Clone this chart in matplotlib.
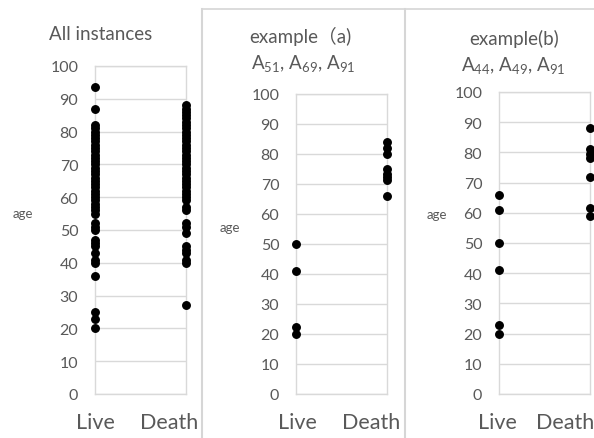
import matplotlib
matplotlib.use('Agg')
import matplotlib.pyplot as plt
from matplotlib.lines import Line2D

plt.rcParams['font.family'] = ['Lato', 'Noto Sans CJK JP', 'DejaVu Sans']
plt.rcParams['mathtext.fontset'] = 'custom'
plt.rcParams['mathtext.rm'] = 'Lato'
plt.rcParams['mathtext.it'] = 'Lato:italic'
plt.rcParams['mathtext.bf'] = 'Lato:bold'

categories = ['Live', 'Death']
yticks = list(range(0, 101, 10))

all_live = [93.5, 87, 82, 81, 80, 79, 78, 77, 76, 75, 74, 73, 72, 71, 70, 69, 68, 67,
            66, 65, 64, 63, 62, 61, 60, 59, 58, 57, 56, 55, 52, 51, 50, 47, 46, 45,
            43, 41, 40, 36, 25, 23, 20]
all_death = [88, 87, 86, 85, 84, 83, 82, 81, 80, 79, 78, 77, 76, 75, 74, 73, 72, 71,
             70, 69, 68, 67, 66, 65, 64, 63, 62, 61, 60, 59, 57, 56, 52, 51, 49, 45,
             44, 43, 41, 40, 27]
a_live = [50, 41, 22.5, 20]
a_death = [84, 82, 80, 75, 73.5, 72.5, 71.5, 66]
b_live = [66, 61, 50, 41, 23, 20]
b_death = [88, 81, 79.5, 78, 72, 61.5, 59]

title_1 = 'All instances'
title_a = ['example（a)', 'A$_{51}$, A$_{69}$, A$_{91}$']
title_b = ['example(b)', 'A$_{44}$, A$_{49}$, A$_{91}$']
ylabel = 'age'

W, H = 594, 439
fig = plt.figure(figsize=(W / 100, H / 100), dpi=100)
TXT = '#595959'
GRID = '#d9d9d9'


def box(l, r, t, b):
    return [l / W, 1 - b / H, (r - l) / W, (b - t) / H]


def fx(x):
    return x / W


def fy(y):
    return 1 - y / H


panels = [
    dict(rect=box(95, 186, 67, 395), live=all_live, death=all_death,
         live_x=95, death_x=169, age=(23, 214)),
    dict(rect=box(296, 387, 95, 395), live=a_live, death=a_death,
         live_x=297, death_x=371, age=(230, 228)),
    dict(rect=box(499, 590, 93, 395), live=b_live, death=b_death,
         live_x=497, death_x=565, age=(437, 215)),
]

for p in panels:
    ax = fig.add_axes(p['rect'])
    ax.set_xlim(1, 2)
    ax.set_ylim(0, 100)
    ax.set_yticks(yticks)
    ax.set_xticks([])
    ax.grid(axis='y', color=GRID, lw=1)
    ax.set_axisbelow(True)
    for s in ax.spines.values():
        s.set_color(GRID)
        s.set_linewidth(1)
    ax.tick_params(axis='y', length=0, pad=12, labelsize=11.5, labelcolor=TXT)
    ax.plot([1] * len(p['live']), p['live'], 'o', color='black', ms=5.4,
            clip_on=False, zorder=5)
    ax.plot([2] * len(p['death']), p['death'], 'o', color='black', ms=5.4,
            clip_on=False, zorder=5)
    fig.text(fx(p['live_x']), fy(423), categories[0], ha='center', va='center',
             fontsize=15.5, color=TXT)
    fig.text(fx(p['death_x']), fy(423), categories[1], ha='center', va='center',
             fontsize=15.5, color=TXT)
    fig.text(fx(p['age'][0]), fy(p['age'][1]), ylabel, ha='center', va='center',
             fontsize=9.5, color=TXT)

TS = 13.5
fig.text(fx(101), fy(34), title_1, ha='center', va='center', fontsize=TS, color=TXT)
fig.text(fx(300), fy(36), title_a[0], ha='center', va='center', fontsize=TS, color=TXT)
fig.text(fx(303), fy(63), title_a[1], ha='center', va='center', fontsize=TS, color=TXT)
fig.text(fx(514), fy(39), title_b[0], ha='center', va='center', fontsize=TS, color=TXT)
fig.text(fx(513), fy(65), title_b[1], ha='center', va='center', fontsize=TS, color=TXT)

LC = '#d6d6d6'
fig.add_artist(Line2D([fx(202), fx(202)], [0, fy(10)], color=LC, lw=1.5,
                      transform=fig.transFigure))
fig.add_artist(Line2D([fx(405), fx(405)], [0, fy(10)], color=LC, lw=1.5,
                      transform=fig.transFigure))
fig.add_artist(Line2D([fx(202), 1], [fy(10), fy(10)], color=LC, lw=1.2,
                      transform=fig.transFigure))

fig.savefig('out.png', dpi=100)
